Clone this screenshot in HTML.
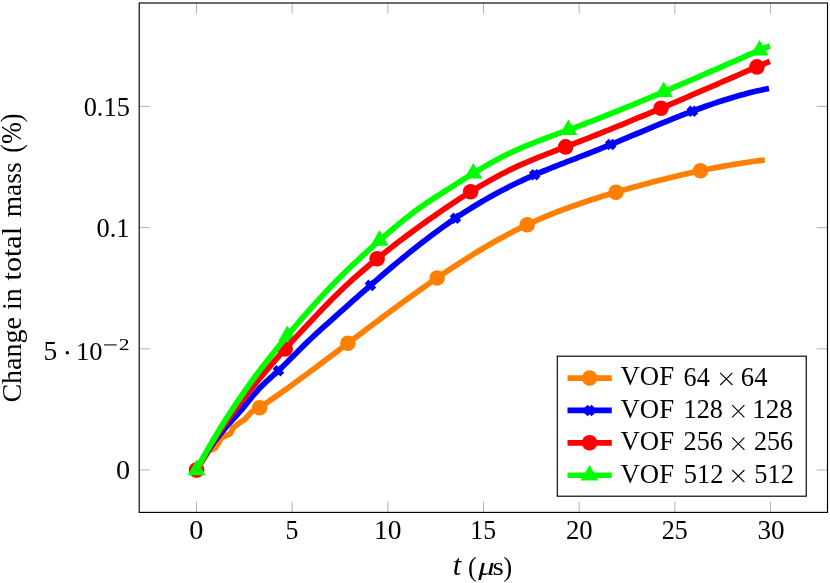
<!DOCTYPE html>
<html><head><meta charset="utf-8"><title>plot</title>
<style>html,body{margin:0;padding:0;background:#fff;}svg{display:block;will-change:transform;}text{font-family:"Liberation Serif",serif;fill:#000;font-kerning:normal;}</style></head><body>
<svg width="830" height="583" viewBox="0 0 830 583">
<rect x="0" y="0" width="830" height="583" fill="#fff"/>
<path d="M196.50 512.40 V501.60 M196.50 3.00 V13.80 M292.17 512.40 V501.60 M292.17 3.00 V13.80 M387.83 512.40 V501.60 M387.83 3.00 V13.80 M483.50 512.40 V501.60 M483.50 3.00 V13.80 M579.17 512.40 V501.60 M579.17 3.00 V13.80 M674.83 512.40 V501.60 M674.83 3.00 V13.80 M770.50 512.40 V501.60 M770.50 3.00 V13.80 M139.20 469.95 H150.00 M827.50 469.95 H816.70 M139.20 348.80 H150.00 M827.50 348.80 H816.70 M139.20 227.65 H150.00 M827.50 227.65 H816.70 M139.20 106.40 H150.00 M827.50 106.40 H816.70" stroke="#808080" stroke-width="0.6" fill="none"/>
<g transform="translate(0,0)">
<circle cx="196.6" cy="470.0" r="7.8" fill="#ff8000"/>
<circle cx="259.6" cy="407.7" r="7.8" fill="#ff8000"/>
<circle cx="347.9" cy="343.3" r="7.8" fill="#ff8000"/>
<circle cx="437.1" cy="278.0" r="7.8" fill="#ff8000"/>
<circle cx="527.2" cy="224.7" r="7.8" fill="#ff8000"/>
<circle cx="616.0" cy="192.2" r="7.8" fill="#ff8000"/>
<circle cx="700.5" cy="170.7" r="7.8" fill="#ff8000"/>
<path d="M192.7 466.1 L200.5 473.9 M192.7 473.9 L200.5 466.1" stroke="#0000ff" stroke-width="5.4" fill="none"/>
<path d="M274.5 366.8 L282.3 374.6 M274.5 374.6 L282.3 366.8" stroke="#0000ff" stroke-width="5.4" fill="none"/>
<path d="M366.5 281.5 L374.3 289.3 M366.5 289.3 L374.3 281.5" stroke="#0000ff" stroke-width="5.4" fill="none"/>
<path d="M451.6 214.4 L459.3 222.2 M451.6 222.2 L459.3 214.4" stroke="#0000ff" stroke-width="5.4" fill="none"/>
<path d="M530.8 170.9 L538.5 178.7 M530.8 178.7 L538.5 170.9" stroke="#0000ff" stroke-width="5.4" fill="none"/>
<path d="M606.8 140.6 L614.6 148.4 M606.8 148.4 L614.6 140.6" stroke="#0000ff" stroke-width="5.4" fill="none"/>
<path d="M688.5 107.3 L696.3 115.1 M688.5 115.1 L696.3 107.3" stroke="#0000ff" stroke-width="5.4" fill="none"/>
<circle cx="196.6" cy="470.0" r="7.8" fill="#ff0000"/>
<circle cx="285.1" cy="349.0" r="7.8" fill="#ff0000"/>
<circle cx="377.1" cy="258.8" r="7.8" fill="#ff0000"/>
<circle cx="470.6" cy="191.8" r="7.8" fill="#ff0000"/>
<circle cx="565.6" cy="146.9" r="7.8" fill="#ff0000"/>
<circle cx="661.0" cy="108.2" r="7.8" fill="#ff0000"/>
<circle cx="756.9" cy="66.9" r="7.8" fill="#ff0000"/>
<path d="M196.6 459.6 L205.6 475.2 L187.5 475.2 Z" fill="#00ff00"/>
<path d="M287.3 325.5 L296.3 341.1 L278.3 341.1 Z" fill="#00ff00"/>
<path d="M379.5 230.1 L388.5 245.7 L370.5 245.7 Z" fill="#00ff00"/>
<path d="M473.3 162.9 L482.3 178.5 L464.3 178.5 Z" fill="#00ff00"/>
<path d="M568.4 119.5 L577.4 135.1 L559.3 135.1 Z" fill="#00ff00"/>
<path d="M663.7 81.4 L672.7 97.0 L654.7 97.0 Z" fill="#00ff00"/>
<path d="M759.5 39.9 L768.5 55.5 L750.5 55.5 Z" fill="#00ff00"/>
<path d="M196.55 470.00 C196.93 469.46 197.30 468.92 197.68 468.38 C198.18 467.66 198.68 466.94 199.18 466.22 C199.55 465.68 199.93 465.14 200.30 464.60 C200.70 464.01 201.08 463.40 201.47 462.80 C201.99 462.00 202.51 461.20 203.03 460.40 C203.42 459.80 203.82 459.21 204.20 458.60 C204.65 457.88 205.08 457.14 205.52 456.41 C206.11 455.44 206.69 454.46 207.28 453.49 C207.72 452.76 207.99 451.84 208.60 451.30 C209.13 450.83 209.92 450.64 210.58 450.31 C211.46 449.87 212.34 449.43 213.22 448.99 C213.88 448.66 214.64 448.44 215.20 448.00 C216.12 447.28 216.50 445.96 217.15 444.94 C218.02 443.58 218.88 442.22 219.75 440.86 C220.40 439.84 220.81 438.55 221.70 437.80 C222.41 437.20 223.44 436.94 224.31 436.51 C225.47 435.94 226.63 435.36 227.79 434.79 C228.66 434.36 229.79 434.19 230.40 433.50 C230.81 433.04 230.98 432.34 231.27 431.76 C231.66 430.99 232.04 430.21 232.43 429.44 C232.72 428.86 232.90 428.19 233.30 427.70 C233.69 427.22 234.28 426.90 234.77 426.50 C235.42 425.97 236.08 425.43 236.73 424.90 C237.22 424.50 237.69 424.08 238.20 423.70 C238.84 423.22 239.54 422.82 240.21 422.38 C241.10 421.79 242.00 421.21 242.89 420.62 C243.56 420.18 244.29 419.81 244.90 419.30 C245.63 418.68 246.18 417.86 246.82 417.14 C247.67 416.18 248.53 415.22 249.38 414.26 C250.02 413.54 250.61 412.76 251.30 412.10 C253.54 409.97 256.95 409.38 259.60 407.74 C261.35 406.66 263.00 405.41 264.70 404.24 L269.81 400.71 L274.91 397.13 L280.01 393.52 L285.12 389.87 L290.22 386.20 L295.32 382.50 L300.42 378.77 L305.53 375.02 L310.63 371.25 L315.73 367.46 L320.84 363.65 L325.94 359.84 L331.04 356.01 L336.15 352.17 L341.25 348.32 L346.35 344.47 L351.45 340.62 L356.56 336.77 L361.66 332.92 L366.76 329.08 L371.87 325.25 L376.97 321.42 L382.07 317.61 L387.18 313.82 L392.28 310.04 L397.38 306.28 L402.48 302.54 L407.59 298.83 L412.69 295.15 L417.79 291.49 L422.90 287.87 L428.00 284.28 L433.10 280.73 L438.21 277.21 L443.31 273.74 L448.41 270.31 L453.52 266.93 L458.62 263.60 L463.72 260.31 L468.82 257.08 L473.93 253.91 L479.03 250.79 L484.13 247.74 L489.24 244.75 L494.34 241.82 L499.44 238.96 L504.55 236.17 L509.65 233.45 L514.75 230.81 L519.85 228.24 L524.96 225.76 L530.06 223.35 L535.16 221.03 L540.27 218.79 L545.37 216.61 L550.47 214.51 L555.58 212.48 L560.68 210.51 L565.78 208.60 L570.88 206.74 L575.99 204.94 L581.09 203.19 L586.19 201.48 L591.30 199.81 L596.40 198.19 L601.50 196.59 L606.61 195.03 L611.71 193.50 L616.81 191.99 L621.92 190.50 L627.02 189.04 L632.12 187.59 L637.22 186.18 L642.33 184.78 L647.43 183.41 L652.53 182.06 L657.64 180.74 L662.74 179.45 L667.84 178.18 L672.95 176.94 L678.05 175.73 L683.15 174.54 L688.25 173.39 L693.36 172.26 L698.46 171.17 L703.56 170.10 L708.67 169.07 L713.77 168.06 L718.87 167.09 L723.98 166.16 L729.08 165.25 L734.18 164.38 L739.28 163.55 L744.39 162.75 L749.49 161.98 L754.59 161.25 L759.70 160.56 L764.80 159.90" stroke="#ff8000" stroke-width="5.7" fill="none" stroke-linejoin="round"/>
<path d="M196.55 470.01 L200.67 462.66 L204.79 455.86 L208.91 449.53 L213.02 443.63 L217.14 438.11 L221.26 432.90 L225.38 427.96 L229.50 423.24 L233.62 418.66 L237.73 414.10 L241.85 409.41 L245.97 404.46 L250.09 399.32 L254.21 394.26 L258.33 389.57 L262.44 385.33 L266.56 381.41 L270.68 377.67 L274.80 373.99 L278.92 370.22 L283.04 366.29 L287.15 362.23 L291.27 358.07 L295.39 353.89 L299.51 349.72 L303.63 345.61 L307.75 341.62 L311.86 337.73 L315.98 333.92 L320.10 330.18 L324.22 326.46 L328.34 322.77 L332.46 319.08 L336.57 315.39 L340.69 311.70 L344.81 308.02 L348.93 304.35 L353.05 300.69 L357.17 297.04 L361.28 293.40 L365.40 289.78 L369.52 286.18 L373.64 282.60 L377.76 279.03 L381.88 275.49 L385.99 271.98 L390.11 268.49 L394.23 265.04 L398.35 261.61 L402.47 258.21 L406.59 254.85 L410.70 251.53 L414.82 248.24 L418.94 245.00 L423.06 241.79 L427.18 238.64 L431.30 235.52 L435.41 232.46 L439.53 229.44 L443.65 226.47 L447.77 223.56 L451.89 220.71 L456.01 217.91 L460.12 215.16 L464.24 212.48 L468.36 209.85 L472.48 207.28 L476.60 204.77 L480.72 202.31 L484.83 199.91 L488.95 197.55 L493.07 195.25 L497.19 193.01 L501.31 190.81 L505.43 188.67 L509.54 186.57 L513.66 184.52 L517.78 182.52 L521.90 180.57 L526.02 178.67 L530.14 176.81 L534.25 175.00 L538.37 173.23 L542.49 171.50 L546.61 169.80 L550.73 168.14 L554.85 166.50 L558.96 164.89 L563.08 163.28 L567.20 161.70 L571.32 160.11 L575.44 158.54 L579.56 156.95 L583.67 155.36 L587.79 153.76 L591.91 152.14 L596.03 150.51 L600.15 148.85 L604.27 147.18 L608.38 145.50 L612.50 143.81 L616.62 142.10 L620.74 140.39 L624.86 138.67 L628.98 136.95 L633.09 135.22 L637.21 133.50 L641.33 131.77 L645.45 130.05 L649.57 128.33 L653.69 126.62 L657.80 124.92 L661.92 123.23 L666.04 121.55 L670.16 119.88 L674.28 118.22 L678.40 116.59 L682.51 114.97 L686.63 113.37 L690.75 111.80 L694.87 110.25 L698.99 108.72 L703.11 107.23 L707.22 105.76 L711.34 104.32 L715.46 102.92 L719.58 101.55 L723.70 100.22 L727.82 98.93 L731.93 97.67 L736.05 96.46 L740.17 95.30 L744.29 94.17 L748.41 93.10 L752.53 92.07 L756.64 91.10 L760.76 90.18 L764.88 89.31 L769.00 88.50" stroke="#0000ff" stroke-width="5.7" fill="none" stroke-linejoin="round"/>
<path d="M196.55 469.96 L200.67 462.41 L204.80 455.21 L208.92 448.33 L213.05 441.72 L217.17 435.37 L221.29 429.23 L225.42 423.28 L229.54 417.50 L233.67 411.83 L237.79 406.29 L241.92 400.85 L246.04 395.51 L250.16 390.27 L254.29 385.12 L258.41 380.06 L262.54 375.08 L266.66 370.18 L270.78 365.35 L274.91 360.59 L279.03 355.89 L283.16 351.25 L287.28 346.67 L291.40 342.13 L295.53 337.63 L299.65 333.17 L303.78 328.75 L307.90 324.35 L312.02 319.98 L316.15 315.63 L320.27 311.30 L324.40 307.01 L328.52 302.77 L332.65 298.59 L336.77 294.49 L340.89 290.47 L345.02 286.55 L349.14 282.72 L353.27 278.98 L357.39 275.32 L361.51 271.73 L365.64 268.21 L369.76 264.76 L373.89 261.35 L378.01 258.00 L382.13 254.69 L386.26 251.42 L390.38 248.19 L394.51 245.00 L398.63 241.85 L402.76 238.73 L406.88 235.65 L411.00 232.59 L415.13 229.57 L419.25 226.57 L423.38 223.60 L427.50 220.65 L431.62 217.73 L435.75 214.84 L439.87 211.98 L444.00 209.16 L448.12 206.37 L452.24 203.61 L456.37 200.89 L460.49 198.21 L464.62 195.58 L468.74 192.98 L472.86 190.44 L476.99 187.94 L481.11 185.49 L485.24 183.09 L489.36 180.74 L493.49 178.45 L497.61 176.21 L501.73 174.04 L505.86 171.92 L509.98 169.87 L514.11 167.88 L518.23 165.95 L522.35 164.09 L526.48 162.29 L530.60 160.54 L534.73 158.84 L538.85 157.17 L542.97 155.54 L547.10 153.93 L551.22 152.34 L555.35 150.77 L559.47 149.20 L563.59 147.63 L567.72 146.05 L571.84 144.47 L575.97 142.87 L580.09 141.27 L584.22 139.66 L588.34 138.03 L592.46 136.40 L596.59 134.77 L600.71 133.12 L604.84 131.46 L608.96 129.80 L613.08 128.13 L617.21 126.45 L621.33 124.77 L625.46 123.08 L629.58 121.38 L633.70 119.67 L637.83 117.96 L641.95 116.25 L646.08 114.52 L650.20 112.79 L654.33 111.06 L658.45 109.32 L662.57 107.58 L666.70 105.83 L670.82 104.07 L674.95 102.31 L679.07 100.55 L683.19 98.78 L687.32 97.01 L691.44 95.24 L695.57 93.46 L699.69 91.68 L703.81 89.90 L707.94 88.11 L712.06 86.32 L716.19 84.53 L720.31 82.74 L724.43 80.95 L728.56 79.15 L732.68 77.35 L736.81 75.56 L740.93 73.76 L745.06 71.97 L749.18 70.18 L753.30 68.39 L757.43 66.61 L761.55 64.83 L765.68 63.06 L769.80 61.30" stroke="#ff0000" stroke-width="5.7" fill="none" stroke-linejoin="round"/>
<path d="M196.55 469.97 L200.67 462.24 L204.80 454.73 L208.92 447.42 L213.05 440.30 L217.17 433.37 L221.30 426.60 L225.42 420.00 L229.55 413.55 L233.67 407.25 L237.80 401.10 L241.92 395.08 L246.05 389.19 L250.17 383.43 L254.30 377.78 L258.42 372.25 L262.55 366.81 L266.67 361.47 L270.80 356.21 L274.92 351.02 L279.05 345.91 L283.17 340.86 L287.30 335.86 L291.42 330.90 L295.55 326.00 L299.67 321.15 L303.80 316.35 L307.92 311.62 L312.04 306.95 L316.17 302.35 L320.29 297.82 L324.42 293.37 L328.54 289.00 L332.67 284.72 L336.79 280.51 L340.92 276.38 L345.04 272.32 L349.17 268.32 L353.29 264.38 L357.42 260.50 L361.54 256.67 L365.67 252.89 L369.79 249.16 L373.92 245.46 L378.04 241.79 L382.17 238.16 L386.29 234.56 L390.42 231.01 L394.54 227.51 L398.67 224.07 L402.79 220.70 L406.92 217.41 L411.04 214.22 L415.17 211.12 L419.29 208.13 L423.42 205.24 L427.54 202.43 L431.66 199.70 L435.79 197.01 L439.91 194.37 L444.04 191.74 L448.16 189.12 L452.29 186.50 L456.41 183.88 L460.54 181.27 L464.66 178.67 L468.79 176.10 L472.91 173.55 L477.04 171.04 L481.16 168.57 L485.29 166.15 L489.41 163.78 L493.54 161.48 L497.66 159.25 L501.79 157.08 L505.91 155.01 L510.04 153.01 L514.16 151.09 L518.29 149.24 L522.41 147.45 L526.54 145.72 L530.66 144.04 L534.79 142.41 L538.91 140.81 L543.03 139.24 L547.16 137.70 L551.28 136.18 L555.41 134.67 L559.53 133.17 L563.66 131.66 L567.78 130.15 L571.91 128.63 L576.03 127.10 L580.16 125.55 L584.28 123.98 L588.41 122.41 L592.53 120.82 L596.66 119.22 L600.78 117.61 L604.91 115.99 L609.03 114.35 L613.16 112.71 L617.28 111.05 L621.41 109.39 L625.53 107.71 L629.66 106.03 L633.78 104.34 L637.91 102.64 L642.03 100.93 L646.16 99.21 L650.28 97.48 L654.41 95.75 L658.53 94.01 L662.65 92.26 L666.78 90.51 L670.90 88.75 L675.03 86.98 L679.15 85.21 L683.28 83.44 L687.40 81.66 L691.53 79.87 L695.65 78.09 L699.78 76.29 L703.90 74.50 L708.03 72.70 L712.15 70.90 L716.28 69.09 L720.40 67.29 L724.53 65.48 L728.65 63.67 L732.78 61.87 L736.90 60.07 L741.03 58.27 L745.15 56.48 L749.28 54.69 L753.40 52.92 L757.53 51.16 L761.65 49.41 L765.78 47.68 L769.90 45.96" stroke="#00ff00" stroke-width="5.7" fill="none" stroke-linejoin="round"/>
</g>
<rect x="139.20" y="3.00" width="688.30" height="509.40" fill="none" stroke="#000" stroke-width="1.15"/>
<g style="filter:grayscale(1)">
<text transform="matrix(1.0860 0 0 1.0427 189.341 539.029)" font-size="26">0</text>
<text transform="matrix(0.9938 0 0 1.0584 285.514 539.025)" font-size="26">5</text>
<text transform="matrix(1.0593 0 0 1.0427 374.090 539.029)" font-size="26">10</text>
<text transform="matrix(0.9874 0 0 1.0505 470.354 539.027)" font-size="26">15</text>
<text transform="matrix(1.0284 0 0 1.0427 565.964 539.029)" font-size="26">20</text>
<text transform="matrix(1.0019 0 0 1.0466 661.793 539.028)" font-size="26">25</text>
<text transform="matrix(1.0467 0 0 1.0427 757.407 539.029)" font-size="26">30</text>
<text transform="matrix(1.0860 0 0 1.0370 115.941 479.030)" font-size="26">0</text>
<text transform="matrix(1.0179 0 0 1.0407 96.508 236.594)" font-size="26">0.1</text>
<text transform="matrix(1.0153 0 0 1.0407 83.660 115.594)" font-size="26">0.15</text>
<text transform="matrix(1.0607 0 0 1.0179 43.614 359.635)" font-size="26">5</text>
<text transform="matrix(1.0198 0 0 1.0028 76.080 359.639)" font-size="26">10</text>
<circle cx="67.3" cy="352.8" r="1.7" fill="#000"/>
<path d="M104.0 344.9 H116.7" stroke="#000" stroke-width="1.05"/>
<text transform="matrix(1.2008 0 0 0.9644 118.681 349.500)" font-size="18">2</text>
<text transform="matrix(0 -1.0790 1.0270 0 20.500 402.622)" font-size="26">Change</text>
<text transform="matrix(0 -1.0774 1.0270 0 20.500 309.960)" font-size="26">in</text>
<text transform="matrix(0 -1.1577 1.0270 0 20.500 280.401)" font-size="26">total</text>
<text transform="matrix(0 -1.0573 1.0270 0 20.500 217.350)" font-size="26">mass</text>
<text transform="matrix(0 -1.0075 1.1146 0 21.342 152.813)" font-size="26">(%)</text>
<text transform="matrix(1.1729 0 0 1.1037 452.828 575.413)" font-size="26" font-style="italic">t</text>
<text transform="matrix(1.0007 0 0 1.0807 467.994 575.729)" font-size="26">(</text>
<text transform="matrix(1.2602 0 0 0.9345 478.300 575.076)" font-size="26" font-style="italic">μ</text>
<text transform="matrix(1.1200 0 0 0.9455 492.535 575.454)" font-size="26">s</text>
<text transform="matrix(1.0007 0 0 1.0807 503.454 575.729)" font-size="26">)</text>
</g>
<rect x="557.3" y="356.2" width="248.95" height="140.0" fill="#fff" stroke="#000" stroke-width="1.15"/>
<path d="M567.5 378.05 H611.8" stroke="#ff8000" stroke-width="5.7"/>
<circle cx="589.6" cy="378.0" r="7.8" fill="#ff8000"/>
<path d="M567.5 410.45 H611.8" stroke="#0000ff" stroke-width="5.7"/>
<path d="M585.7 406.6 L593.5 414.3 M585.7 414.3 L593.5 406.6" stroke="#0000ff" stroke-width="5.4" fill="none"/>
<path d="M567.5 442.85 H611.8" stroke="#ff0000" stroke-width="5.7"/>
<circle cx="589.6" cy="442.8" r="7.8" fill="#ff0000"/>
<path d="M567.5 475.25 H611.8" stroke="#00ff00" stroke-width="5.7"/>
<path d="M589.6 464.9 L598.6 480.4 L580.6 480.4 Z" fill="#00ff00"/>
<g style="filter:grayscale(1)">
<text transform="matrix(1.0289 0 0 1.0559 620.532 385.388)" font-size="26">VOF</text>
<text transform="matrix(1.0039 0 0 1.0180 683.591 385.535)" font-size="26">64</text>
<text transform="matrix(1.0243 0 0 1.0180 740.868 385.535)" font-size="26">64</text>
<path d="M720.2 372.8 L732.4 385.0 M720.2 385.0 L732.4 372.8" stroke="#000" stroke-width="1.1" fill="none"/>
<text transform="matrix(1.0289 0 0 1.0559 620.532 417.788)" font-size="26">VOF</text>
<text transform="matrix(1.0098 0 0 1.0142 683.603 417.936)" font-size="26">128</text>
<text transform="matrix(1.0434 0 0 1.0142 752.226 417.936)" font-size="26">128</text>
<path d="M732.2 405.2 L744.4 417.4 M732.2 417.4 L744.4 405.2" stroke="#000" stroke-width="1.1" fill="none"/>
<text transform="matrix(1.0289 0 0 1.0559 620.532 450.188)" font-size="26">VOF</text>
<text transform="matrix(1.0050 0 0 1.0180 683.589 450.335)" font-size="26">256</text>
<text transform="matrix(1.0050 0 0 1.0180 753.989 450.335)" font-size="26">256</text>
<path d="M732.2 437.6 L744.4 449.8 M732.2 449.8 L744.4 437.6" stroke="#000" stroke-width="1.1" fill="none"/>
<text transform="matrix(1.0289 0 0 1.0559 620.532 482.588)" font-size="26">VOF</text>
<text transform="matrix(1.0201 0 0 1.0180 683.675 482.735)" font-size="26">512</text>
<text transform="matrix(1.0146 0 0 1.0180 754.283 482.735)" font-size="26">512</text>
<path d="M732.2 470.0 L744.4 482.2 M732.2 482.2 L744.4 470.0" stroke="#000" stroke-width="1.1" fill="none"/>
</g>
</svg></body></html>
